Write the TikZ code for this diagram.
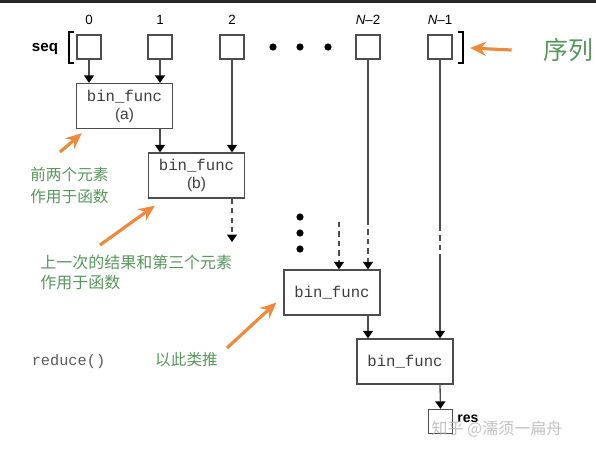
\documentclass[tikz,border=0pt]{standalone}
\usepackage{fontspec}
\setmainfont{Liberation Sans}
\setmonofont{Liberation Mono}
\newfontfamily\cjk{Noto Sans CJK SC}
\usetikzlibrary{arrows.meta}
\definecolor{NoteOrange}{HTML}{EF8A3C}
\definecolor{NoteGreen}{HTML}{55975A}
\definecolor{InkGray}{HTML}{3C3C3C}

\tikzset{
  cell/.style={draw=black!70,line width=0.75pt,minimum size=0.48cm,inner sep=0pt},
  funcbox/.style={draw=black!70,line width=0.75pt,minimum width=1.92cm,minimum height=0.9cm,
    inner sep=0pt,align=center,text=InkGray,font=\fontsize{8.8}{10.2}\selectfont},
  flow/.style={black!70,line width=0.75pt,-{Triangle[length=0.15cm,width=0.2cm,color=black]}},
  wire/.style={black!70,line width=0.75pt},
  gap/.style={dash pattern=on 3pt off 2.4pt},
  note/.style={NoteGreen,inner sep=0pt,align=left},
  pointer/.style={NoteOrange,line width=1.8pt,-{Stealth[length=0.32cm,width=0.28cm]}},
  idx/.style={font=\fontsize{7.6}{9}\selectfont}
}

\begin{document}
\begin{tikzpicture}[x=0.02cm,y=-0.02cm]
\useasboundingbox (0,0) rectangle (596,457);
\fill[black!85] (0,0) rectangle (596,3);

% the input sequence
\node[font=\bfseries\fontsize{8.6}{10}\selectfont] (seq) at (45,49) {seq};
\foreach \x/\n/\t in {89/s0/0,160/s1/1,232/s2/2,368/sn2/{\textit{N}--2},440/sn1/{\textit{N}--1}}{
  \node[cell] (\n) at (\x,47) {};
  \node[idx] at (\x,20) {\t};
}
\draw[line width=1.6pt] (74,32) -- (69,32) -- (69,63) -- (74,63);
\draw[line width=1.6pt] (458,32) -- (463,32) -- (463,63) -- (458,63);
\coordinate (rb) at (463,48);
\foreach \x in {273,300,328} \fill (\x,47) circle (3.6);

% the calls
\node[funcbox] (f1) at (124.5,106) {\texttt{\fontsize{8.9}{10}\selectfont bin\_func}\\(a)};
\node[funcbox] (f2) at (196.5,175.5) {\texttt{\fontsize{8.9}{10}\selectfont bin\_func}\\(b)};
\node[funcbox] (f3) at (332,292.5) {\texttt{\fontsize{8.9}{10}\selectfont bin\_func}};
\node[funcbox] (f4) at (405,361.5) {\texttt{\fontsize{8.9}{10}\selectfont bin\_func}};
\node[cell] (res) at (440.5,421.5) {};
\node[anchor=west,inner sep=0pt,font=\bfseries\fontsize{8}{10}\selectfont] (reslbl) at (457,419) {res};

\draw[flow] (s0.south) -- (s0 |- f1.north);
\draw[flow] (s1.south) -- (s1 |- f1.north);
\draw[flow] (f1.south -| s1) -- (s1 |- f2.north);
\draw[flow] (s2.south) -- (s2 |- f2.north);
\coordinate (e2) at (232,242);
\draw[flow,gap] (f2.south -| s2) -- (e2);

\foreach \y in {217,233,249} \fill (300,\y) circle (3.6);
\coordinate (d3) at (339,222);
\draw[flow,gap] (d3) -- (d3 |- f3.north);
\coordinate (b3) at (368,220);
\draw[wire] (sn2.south) -- (b3);
\draw[flow,gap] (b3) -- (b3 |- f3.north);
\draw[flow] (f3.south -| sn2) -- (sn2 |- f4.north);

\coordinate (g1) at (440,226);
\coordinate (g2) at (440,255);
\draw[wire] (sn1.south) -- (g1);
\draw[wire,gap] (g1) -- (g2);
\draw[flow] (g2) -- (g2 |- f4.north);
\draw[flow] (f4.south -| sn1) -- (res.north);

% notes
\node[font=\ttfamily\fontsize{8.7}{10}\selectfont,text=black!65] (red) at (68.5,362) {reduce()};
\node[note,font=\cjk\fontsize{14.2}{16}\selectfont] (xl) at (568,50) {序列};
\node[note,anchor=west,font=\cjk\fontsize{8.9}{12.5}\selectfont] (na) at (30,186) {前两个元素\\作用于函数};
\node[note,anchor=west,font=\cjk\fontsize{9.1}{11.4}\selectfont] (nb) at (40,272) {上一次的结果和第三个元素\\作用于函数};
\node[note,font=\cjk\fontsize{8.9}{11}\selectfont] (nc) at (186.5,360) {以此类推};

\coordinate (pa) at (60,152);
\coordinate (pb) at (100,245);
\coordinate (pc) at (227,348);
\draw[pointer] ([shift={(-31,0)}]xl.west) -- ([shift={(7,0)}]rb);
\draw[pointer] (pa) -- ([shift={(6,4)}]f1.south west);
\draw[pointer] (pb) -- ([shift={(7,7)}]f2.south west);
\draw[pointer] (pc) -- ([shift={(-7,10)}]f3.west);

\node[text=black!30,opacity=0.8,font=\cjk\fontsize{9.1}{11}\selectfont] (mark) at (497,429) {知乎 @濡须一扁舟};
\end{tikzpicture}
\end{document}
